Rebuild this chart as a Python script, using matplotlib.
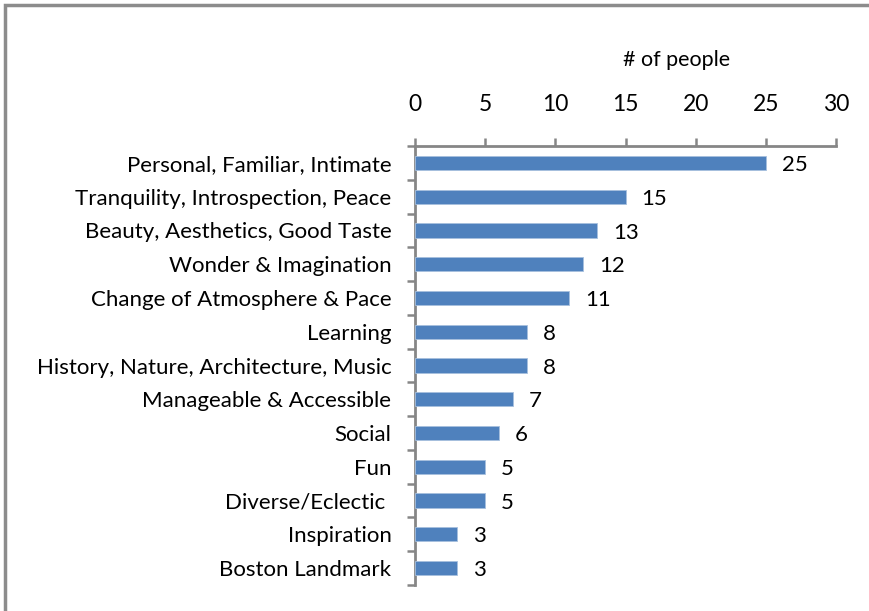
import matplotlib
matplotlib.use("Agg")
import matplotlib.pyplot as plt
from matplotlib.patches import Rectangle
import numpy as np

categories = ["Personal, Familiar, Intimate", "Tranquility, Introspection, Peace",
              "Beauty, Aesthetics, Good Taste", "Wonder & Imagination",
              "Change of Atmosphere & Pace", "Learning",
              "History, Nature, Architecture, Music", "Manageable & Accessible",
              "Social", "Fun", "Diverse/Eclectic ", "Inspiration", "Boston Landmark"]
values = [25, 15, 13, 12, 11, 8, 8, 7, 6, 5, 5, 3, 3]
xticks = [0, 5, 10, 15, 20, 25, 30]

plt.rcParams['font.family'] = ['Lato', 'DejaVu Sans']

fig = plt.figure(figsize=(8.69, 6.11), dpi=100)
W, H = 869, 611
ax = fig.add_axes([415 / W, 1 - 585 / H, (836 - 415) / W, (585 - 146) / H])

n = len(categories)
y = np.arange(n)
ax.barh(y, values, height=0.42, color="#4F81BD", edgecolor="#A7C0DE", linewidth=0.6, zorder=3)
ax.set_ylim(n - 0.5, -0.5)
ax.set_xlim(0, 30)

ax.xaxis.tick_top()
ax.set_xticks(xticks)
ax.set_xticklabels([str(t) for t in xticks], fontsize=16.5)
ax.tick_params(axis='x', direction='out', length=6, width=1.8, color="#868686", pad=16)

ax.text(677 / W, 1 - 60 / H, "# of people", transform=fig.transFigure,
        ha='center', va='center', fontsize=15.5)

ax.set_yticks(y)
ax.set_yticklabels(categories, fontsize=16)
ax.tick_params(axis='y', which='major', length=0, pad=17)
ax.set_yticks(np.arange(n + 1) - 0.5, minor=True)
ax.tick_params(axis='y', which='minor', direction='out', length=6, width=1.8, color="#868686")

for s in ['right', 'bottom']:
    ax.spines[s].set_visible(False)
for s in ['left', 'top']:
    ax.spines[s].set_color("#868686")
    ax.spines[s].set_linewidth(2)

for yi, v in zip(y, values):
    ax.annotate(str(v), (v, yi), xytext=(11.5, -1.5), textcoords='offset points',
                va='center', ha='left', fontsize=16)

# outer frame
fig.patches.append(Rectangle((5 / W, -0.1), 1.2, 1 - 5 / H + 0.1, transform=fig.transFigure,
                             fill=False, edgecolor="#8C8C8C", linewidth=2.5))

fig.savefig("out.png", dpi=100)
